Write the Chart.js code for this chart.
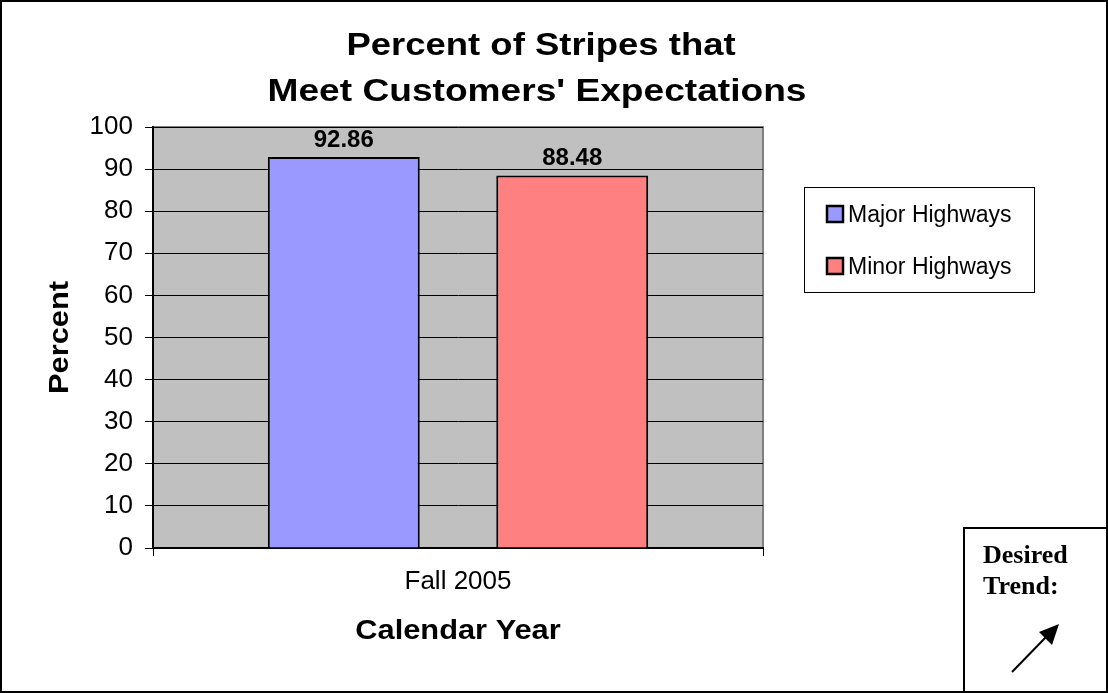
<!DOCTYPE html>
<html><head><meta charset="utf-8">
<script src="https://cdn.jsdelivr.net/npm/chart.js@4.4.1/dist/chart.umd.min.js"></script>
<style>html,body{margin:0;padding:0;background:#fff;}#wrap{width:1108px;height:693px;position:relative;}</style>
</head><body><div id="wrap"><canvas id="c" width="1108" height="693"></canvas></div>
<script>
const categories = ["Fall 2005"];
const seriesNames = ["Major Highways", "Minor Highways"];
const majorValues = [92.86];
const minorValues = [88.48];
const yTicks = [0,10,20,30,40,50,60,70,80,90,100];
const titleLines = ["Percent of Stripes that", "Meet Customers' Expectations"];
const xAxisTitle = "Calendar Year";
const yAxisTitle = "Percent";
const trendLines = ["Desired", "Trend:"];
const colors = ["#9999FF", "#FF8080"];

const PLOT = {left:153, right:763, top:127, bottom:548};
const SANS = '"Liberation Sans", Arial, sans-serif';

function stretchText(ctx, text, x, y, sx){
  ctx.save(); ctx.translate(x, y); ctx.scale(sx, 1); ctx.fillText(text, 0, 0); ctx.restore();
}

const deco = {
  id:'deco',
  beforeDraw(chart){
    const ctx = chart.ctx, a = chart.chartArea;
    ctx.save();
    ctx.fillStyle='#fff'; ctx.fillRect(0,0,chart.width,chart.height);
    ctx.fillStyle='#C0C0C0'; ctx.fillRect(a.left,a.top,a.right-a.left,a.bottom-a.top);
    ctx.strokeStyle='#808080'; ctx.lineWidth=2;
    ctx.beginPath(); ctx.moveTo(a.left,a.top); ctx.lineTo(a.right,a.top); ctx.lineTo(a.right,a.bottom); ctx.stroke();
    ctx.restore();
  },
  afterDatasetsDraw(chart){
    const ctx = chart.ctx;
    ctx.save();
    ctx.font='bold 24px '+SANS;
    ctx.fillStyle='#000'; ctx.textAlign='center'; ctx.textBaseline='alphabetic';
    chart.data.datasets.forEach((ds,i)=>{
      chart.getDatasetMeta(i).data.forEach((bar,j)=>{
        ctx.fillText(ds.data[j].toFixed(2), bar.x, bar.y-10);
      });
    });
    ctx.restore();
  },
  afterDraw(chart){
    const ctx = chart.ctx, a = chart.chartArea;
    ctx.save();
    ctx.fillStyle='#000';
    // chart title
    ctx.font='bold 32px '+SANS; ctx.textAlign='center'; ctx.textBaseline='alphabetic';
    stretchText(ctx, titleLines[0], 541, 55, 1.14);
    stretchText(ctx, titleLines[1], 537, 101, 1.16);
    // axis titles
    ctx.font='bold 28px '+SANS;
    stretchText(ctx, xAxisTitle, (a.left+a.right)/2, 639, 1.1);
    ctx.save(); ctx.translate(68, (a.top+a.bottom)/2); ctx.rotate(-Math.PI/2);
    ctx.scale(1.1,1); ctx.fillText(yAxisTitle, 0, 0); ctx.restore();
    // outer frame
    ctx.strokeStyle='#000'; ctx.lineWidth=2;
    ctx.strokeRect(1,1,chart.width-2,chart.height-2);
    // legend
    ctx.lineWidth=1;
    ctx.strokeRect(804.5,187.5,230,105);
    ctx.font='23px '+SANS;
    ctx.textBaseline='alphabetic'; ctx.textAlign='left';
    seriesNames.forEach((n,i)=>{
      const y = 214 + i*52;
      ctx.fillStyle=colors[i]; ctx.fillRect(827,y-8,16,16);
      ctx.lineWidth=2.5; ctx.strokeStyle='#000'; ctx.strokeRect(827,y-8,16,16);
      ctx.fillStyle='#000'; ctx.fillText(n, 848, y+8);
    });
    // desired trend box
    ctx.lineWidth=2; ctx.strokeStyle='#000';
    ctx.strokeRect(964,528,160,180);
    ctx.font='bold 26px "Liberation Serif", "Times New Roman", serif';
    ctx.fillText(trendLines[0], 983, 563);
    ctx.fillText(trendLines[1], 983, 594);
    // arrow
    ctx.beginPath(); ctx.moveTo(1012,672); ctx.lineTo(1047,636); ctx.lineWidth=2; ctx.stroke();
    ctx.beginPath(); ctx.moveTo(1059,624); ctx.lineTo(1039,632); ctx.lineTo(1052,645); ctx.closePath(); ctx.fill();
    ctx.restore();
  }
};

new Chart(document.getElementById('c'), {
  type:'bar',
  data:{
    labels:categories,
    datasets:[
      {label:seriesNames[0], data:majorValues, backgroundColor:colors[0], borderColor:'#000', borderWidth:2, barPercentage:0.665, categoryPercentage:0.749},
      {label:seriesNames[1], data:minorValues, backgroundColor:colors[1], borderColor:'#000', borderWidth:2, barPercentage:0.665, categoryPercentage:0.749}
    ]
  },
  options:{
    responsive:false, animation:false, devicePixelRatio:1,
    layout:{padding:{left:0,right:1108-PLOT.right,top:PLOT.top,bottom:0}},
    plugins:{legend:{display:false}, tooltip:{enabled:false}, title:{display:false}},
    scales:{
      x:{
        grid:{display:true, drawOnChartArea:false, color:'#000', tickLength:8, offset:true},
        border:{color:'#000', width:2},
        ticks:{color:'#000', font:{family:SANS, size:26}, padding:10},
        title:{display:false, text:xAxisTitle},
        afterFit(s){ s.height = 693-PLOT.bottom; }
      },
      y:{
        min:0, max:100,
        afterBuildTicks(s){ s.ticks = yTicks.map(v=>({value:v})); },
        grid:{color:'#000', lineWidth:1, tickLength:8},
        border:{color:'#000', width:2},
        ticks:{color:'#000', font:{family:SANS, size:26}, padding:12},
        title:{display:false, text:yAxisTitle},
        afterFit(s){ s.width = PLOT.left; }
      }
    }
  },
  plugins:[deco]
});
</script></body></html>
